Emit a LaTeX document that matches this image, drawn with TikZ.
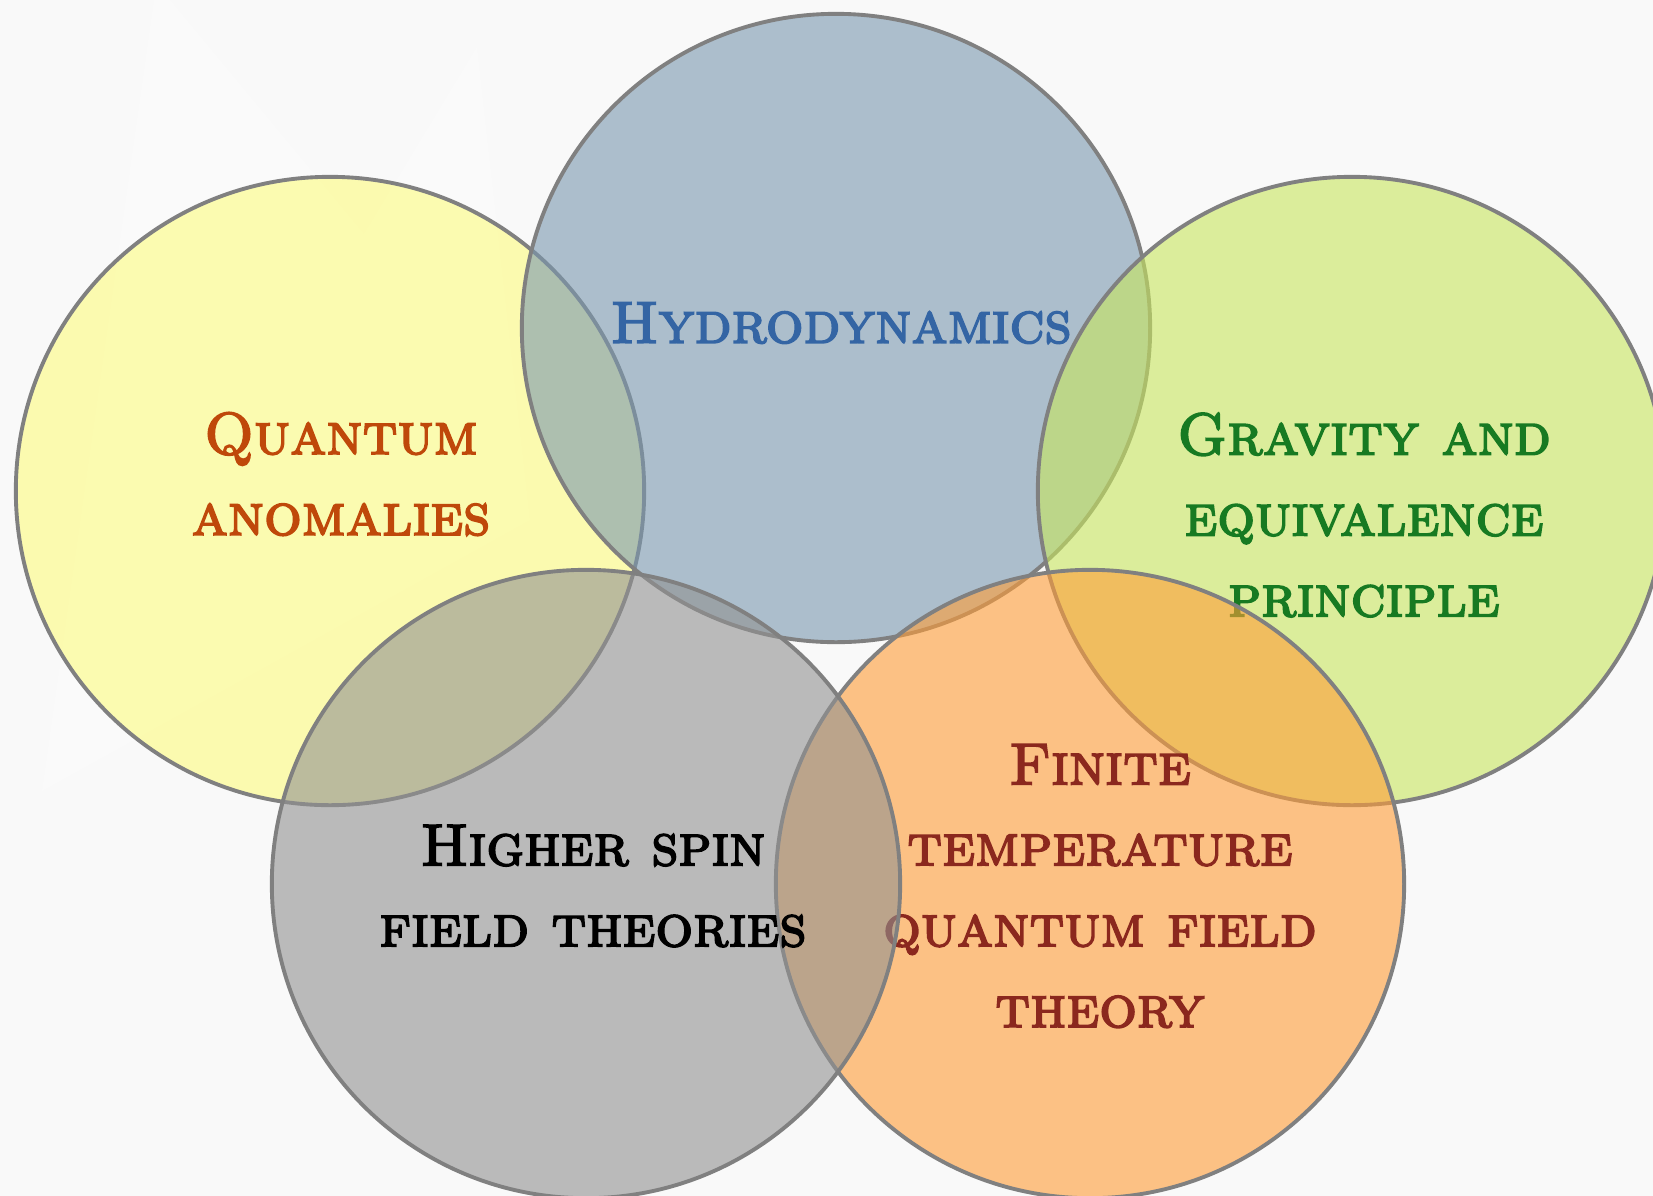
\documentclass[tikz,border=0pt]{standalone}
\font\scbf="[lmromancaps10-regular]:mapping=tex-text;embolden=3" at 16.8pt
\newcommand\labfont{\scbf\baselineskip=23pt\relax}
\definecolor{bgc}{HTML}{F9F9F9}
\definecolor{cyel}{RGB}{253,252,127}
\definecolor{cblu}{RGB}{122,152,175}
\definecolor{cgrn}{RGB}{200,230,93}
\definecolor{cgry}{RGB}{145,145,145}
\definecolor{cora}{RGB}{255,157,55}
\definecolor{tq}{RGB}{191,72,10}
\definecolor{th}{RGB}{52,101,164}
\definecolor{tg}{RGB}{23,122,34}
\definecolor{tf}{RGB}{139,40,30}
\begin{document}
\begin{tikzpicture}[x=0.01cm,y=-0.01cm,
  ring/.style={draw=gray, line width=1.1pt, fill opacity=0.6, draw opacity=1},
  lab/.style={font=\labfont, align=center, inner sep=0pt}]
\useasboundingbox (0,0) rectangle (1653,1196);
\fill[bgc] (0,0) rectangle (1653,1196);
\clip (0,0) rectangle (1653,1196);
\fill[white, opacity=0.22] (154,0) -- (170,0) -- (364,234) -- (477,47) -- (530,520) -- (42,791) -- cycle;
\filldraw[ring, fill=cyel] (330,491) circle[radius=3.14cm];
\node[lab, text=tq] (qa) at (341,474) {Quantum\\anomalies};
\filldraw[ring, fill=cblu] (836,328) circle[radius=3.14cm];
\node[lab, text=th] (hy) at (841,323) {Hydrodynamics};
\filldraw[ring, fill=cgrn] (1352,491) circle[radius=3.14cm];
\node[lab, text=tg] (gr) at (1364,515) {Gravity and\\equivalence\\principle};
\filldraw[ring, fill=cora] (1090,884) circle[radius=3.14cm];
\node[lab, text=tf] (ft) at (1100,886) {Finite\\temperature\\quantum field\\theory};
\filldraw[ring, fill=cgry] (586,884) circle[radius=3.14cm];
\node[lab, text=black] (hs) at (593,886) {Higher spin\\field theories};
\end{tikzpicture}
\end{document}
